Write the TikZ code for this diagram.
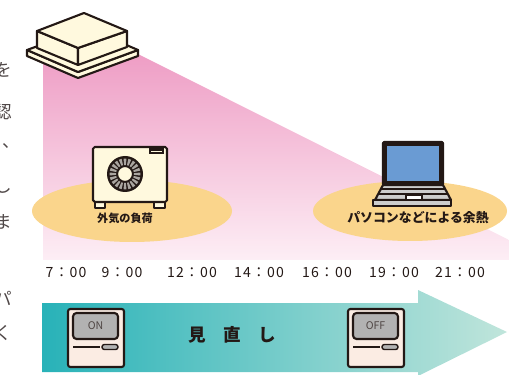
\documentclass[tikz,border=0pt]{standalone}
\usepackage{fontspec}
\setmainfont{Noto Sans CJK JP}
\usepackage{xcolor}
\usepackage{tikz}
\usetikzlibrary{positioning}

\definecolor{ink}{RGB}{35,24,21}
\definecolor{cream}{RGB}{255,249,222}
\definecolor{pinktop}{RGB}{238,156,196}
\definecolor{pinkbot}{RGB}{253,238,245}
\definecolor{spot}{RGB}{250,213,140}
\definecolor{screenblue}{RGB}{106,155,211}
\definecolor{keygrey}{RGB}{205,205,205}
\definecolor{bladegrey}{RGB}{170,165,160}
\definecolor{tealdark}{RGB}{40,178,184}
\definecolor{teallight}{RGB}{192,229,219}
\definecolor{panel}{RGB}{251,236,227}
\definecolor{lcd}{RGB}{178,178,178}
\definecolor{sidetext}{RGB}{80,72,72}

\begin{document}
\begin{tikzpicture}[x=0.03cm, y=-0.03cm,
    outline/.style={draw=ink, line width=1.8pt, line join=round},
    label/.style={font=\bfseries\fontsize{9.5}{10}\selectfont, text=ink, inner sep=0pt},
    time/.style={font=\fontsize{12}{12}\selectfont\addfontfeature{LetterSpace=8}, text=ink, inner sep=0pt},
    lcdtext/.style={font=\fontsize{9}{9}\selectfont, text=ink!80, inner sep=0pt},
    side/.style={font=\fontsize{15}{15}\selectfont, text=sidetext, inner sep=0pt}]

    \useasboundingbox (0,0) rectangle (509,375);

    % heat falling from the ceiling unit
    \shade[top color=pinktop, bottom color=pinkbot]
        (43,50) -- (130,50) -- (509,240) -- (509,260) -- (43,260) -- cycle;

    % spots under the two heat sources
    \fill[spot] (132,211) ellipse [x radius=100, y radius=31];
    \fill[spot] (410,211) ellipse [x radius=97, y radius=30];

    % outdoor unit
    \draw[outline, fill=cream] (95,202) rectangle (105,208);
    \draw[outline, fill=cream] (154,202) rectangle (165,208);
    \draw[outline, fill=cream, rounded corners=1.5pt] (93,147) rectangle (167,202);
    \fill[ink] (149,148) rectangle (164,154);
    \draw[cream, line width=0.6pt] (151,151) -- (162,151);
    \coordinate (fan) at (125,174);
    \fill[ink] (fan) circle [radius=18];
    \foreach \a in {0,18,...,342}
        \fill[bladegrey, shift={(fan)}] (\a-5.5:9) -- (\a-5.5:15.5) -- (\a+5.5:15.5) -- (\a+5.5:9) -- cycle;
    \draw[outline, fill=cream, line width=1pt] (fan) circle [radius=7.5];
    \node[label] (outdoor) at (125,218) {外気の負荷};

    % laptop
    \draw[outline, fill=ink, rounded corners=1pt] (383,142) rectangle (443,185);
    \fill[screenblue] (387,146) rectangle (439,181);
    \draw[outline, fill=keygrey] (383,185) -- (443,185) -- (451,200) -- (375,200) -- cycle;
    \draw[ink, line width=1pt] (381,189) -- (445,189);
    \draw[ink, line width=1pt] (378,194) -- (448,194);
    \draw[outline, fill=white, line width=1pt] (406,195) rectangle (422,200);
    \draw[outline, fill=keygrey] (373,200) rectangle (451,206);
    \node[label, font=\bfseries\fontsize{11}{11}\selectfont] (pcheat) at (418,218) {パソコンなどによる余熱};

    % ceiling unit: flange plate, then the box on top
    \coordinate (fl) at (27,50);
    \coordinate (ff) at (78,72);
    \coordinate (fr) at (138,50);
    \coordinate (fb) at (87,28);
    \draw[outline, fill=cream] (fl) -- (ff) -- (fr) -- ++(0,6) -- (78,78) -- (27,56) -- cycle;
    \draw[outline, fill=cream] (fl) -- (fb) -- (fr) -- (ff) -- cycle;
    \draw[outline, fill=cream] (37,31) -- (78,48) -- (78,65) -- (37,48) -- cycle;
    \draw[outline, fill=cream] (78,48) -- (127,31) -- (127,47) -- (78,65) -- cycle;
    \draw[outline, fill=cream] (84,13) -- (127,31) -- (78,48) -- (37,31) -- cycle;

    % time axis
    \node[time] (t7)  at (66,272)  {7：00};
    \node[time] (t9)  at (122,272) {9：00};
    \node[time] (t12) at (192,272) {12：00};
    \node[time] (t14) at (259,272) {14：00};
    \node[time] (t16) at (327,272) {16：00};
    \node[time] (t19) at (394,272) {19：00};
    \node[time] (t21) at (460,272) {21：00};

    % review arrow
    \shade[left color=tealdark, right color=teallight]
        (42,303) -- (418,303) -- (418,290) -- (507,332) -- (418,376) -- (418,372) -- (42,372) -- cycle;
    \node[font=\bfseries\fontsize{15}{15}\selectfont, text=ink, inner sep=0pt] (review) at (232,335)
        {見\hspace{15pt}直\hspace{15pt}し};

    % remote controllers
    \foreach \dx/\name/\txt in {0/onpad/ON, 280/offpad/OFF} {
        \begin{scope}[xshift=\dx*0.03cm]
            \draw[outline, fill=panel, rounded corners=2pt] (68,309) rectangle (124,367);
            \draw[outline, fill=lcd, rounded corners=3pt] (73,313) rectangle (118,339);
            \node[lcdtext] (\name) at (95.5,326) {\txt};
            \draw[ink, line width=1.8pt] (73,347) -- (100,347);
            \draw[outline, fill=lcd, line width=1.2pt, rounded corners=2pt] (102,344.5) rectangle (118,349.5);
        \end{scope}
    }

    % column of text running off the left edge
    \foreach \ch/\xx/\yy/\name in {を/3/70/c1, 認/3/112/c2, 、/11/146/c3, し/3/186/c4, ま/3/222/c5, パ/3/298/c6, く/3/333/c7}
        \node[side] (\name) at (\xx,\yy) {\ch};
\end{tikzpicture}
\end{document}
